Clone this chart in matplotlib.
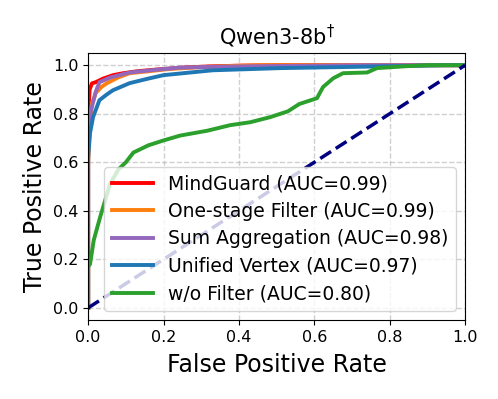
import numpy as np
import matplotlib.pyplot as plt
import matplotlib as mpl

mpl.rcParams['font.family'] = ['DejaVu Sans']

# ROC points
mg_fpr = [0.0, 0.0, 0.004, 0.01, 0.02, 0.04, 0.066, 0.093, 0.13, 0.18, 0.25, 0.32, 0.4, 0.5, 1.0]
mg_tpr = [0.0, 0.80, 0.90, 0.925, 0.93, 0.945, 0.959, 0.967, 0.975, 0.982, 0.99, 0.995, 0.998, 1.0, 1.0]

os_fpr = [0.0, 0.0, 0.005, 0.01, 0.02, 0.035, 0.05, 0.08, 0.11, 0.16, 0.22, 0.3, 0.38, 0.45, 1.0]
os_tpr = [0.0, 0.60, 0.76, 0.84, 0.885, 0.91, 0.926, 0.95, 0.967, 0.975, 0.985, 0.992, 0.997, 1.0, 1.0]

sa_fpr = [0.0, 0.0, 0.005, 0.012, 0.02, 0.03, 0.06, 0.11, 0.16, 0.24, 0.32, 0.45, 0.6, 0.75, 1.0]
sa_tpr = [0.0, 0.68, 0.80, 0.84, 0.89, 0.93, 0.95, 0.97, 0.978, 0.99, 0.993, 0.996, 0.998, 1.0, 1.0]

uv_fpr = [0.0, 0.0, 0.005, 0.013, 0.03, 0.05, 0.066, 0.11, 0.16, 0.2, 0.33, 0.51, 0.7, 0.85, 0.95, 1.0]
uv_tpr = [0.0, 0.62, 0.72, 0.786, 0.856, 0.88, 0.897, 0.926, 0.945, 0.959, 0.979, 0.988, 0.993, 0.997, 1.0, 1.0]

wf_fpr = [0.0, 0.0, 0.005, 0.015, 0.032, 0.058, 0.08, 0.10, 0.12, 0.16, 0.2, 0.244, 0.316, 0.377, 0.43, 0.483,
          0.53, 0.56, 0.607, 0.623, 0.65, 0.676, 0.74, 0.766, 0.846, 0.9, 1.0]
wf_tpr = [0.0, 0.17, 0.18, 0.28, 0.375, 0.51, 0.57, 0.60, 0.64, 0.67, 0.69, 0.71, 0.73, 0.753, 0.765, 0.786,
          0.81, 0.84, 0.864, 0.91, 0.946, 0.967, 0.97, 0.988, 0.996, 1.0, 1.0]

labels = ['MindGuard (AUC=0.99)', 'One-stage Filter (AUC=0.99)', 'Sum Aggregation (AUC=0.98)',
          'Unified Vertex (AUC=0.97)', 'w/o Filter (AUC=0.80)']
colors = ['#ff0000', '#ff7f0e', '#9467bd', '#1f77b4', '#2ca02c']
curves = [(mg_fpr, mg_tpr), (os_fpr, os_tpr), (sa_fpr, sa_tpr), (uv_fpr, uv_tpr), (wf_fpr, wf_tpr)]

fig = plt.figure(figsize=(4.98, 3.99), dpi=100)
ax = fig.add_axes([0.177, 0.198, 0.757, 0.669])

for (fpr, tpr), lab, c in zip(curves, labels, colors):
    ax.plot(fpr, tpr, color=c, lw=2.8, label=lab)
ax.plot([0, 1], [0, 1], color='navy', lw=2.5, linestyle='--')

ax.set_xlim(0.0, 1.0)
ax.set_ylim(-0.05, 1.05)
ax.set_xticks(np.arange(0, 1.01, 0.2))
ax.set_yticks(np.arange(0, 1.01, 0.2))
ax.tick_params(labelsize=11.5)
ax.grid(True, linestyle='--', color='#b0b0b0', alpha=0.6, lw=1)
ax.set_xlabel('False Positive Rate', fontsize=17, labelpad=6)
ax.set_ylabel('True Positive Rate', fontsize=17)
ax.set_title('Qwen3-8b$^{\\dagger}$', fontsize=15)
ax.legend(loc='lower right', fontsize=13.5, handlelength=2.2, labelspacing=0.45)

fig.savefig('out.png', dpi=100)
